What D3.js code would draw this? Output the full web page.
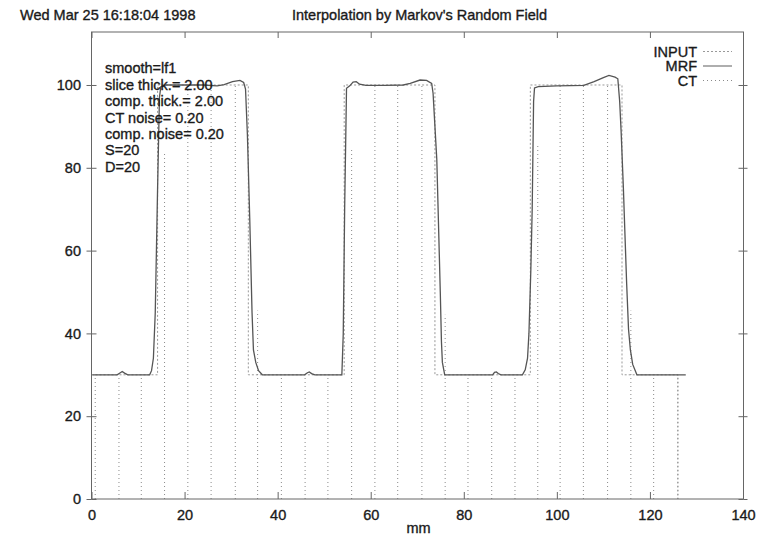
<!DOCTYPE html>
<html>
<head>
<meta charset="utf-8">
<script src="https://cdn.jsdelivr.net/npm/d3@7"></script>
<style>
  body { margin: 0; background: #fff; }
  svg text { font-family: "Liberation Sans", Arial, sans-serif; font-size: 14.5px; fill: #1a1a1a;
             stroke: #1a1a1a; stroke-width: 0.35px; }
  .axis path { display: none; }
  .axis line { stroke: #666; }
</style>
</head>
<body>
<div id="chart"></div>
<script>
// 헤더 / 범례 / 파라미터 텍스트
const headerDate = 'Wed Mar 25 16:18:04 1998';
const chartTitle = "Interpolation by Markov's Random Field";
const xLabel = 'mm';
const legendNames = ['INPUT', 'MRF', 'CT'];
const paramLines = ['smooth=lf1', 'slice thick.= 2.00', 'comp. thick.= 2.00',
    'CT noise= 0.20', 'comp. noise= 0.20', 'S=20', 'D=20'];

const xTicks = [0, 20, 40, 60, 80, 100, 120, 140];
const yTicks = [0, 20, 40, 60, 80, 100];

// INPUT: 원래 계단 함수
const inputX = [0, 14.2, 14.2, 33.7, 33.7, 54.3, 54.3, 73.8, 73.8, 94.3, 94.3, 114.0, 114.0, 126.0, 126.0];
const inputY = [30, 30, 100, 100, 30, 30, 100, 100, 30, 30, 100, 100, 30, 30, 0];

// MRF: 복원 결과 곡선
const mrfX = [0.2, 5.5, 6.2, 6.6, 7.1, 7.8, 12.5, 12.9, 13.3, 13.7, 14.2, 14.6, 14.9, 16, 20, 24, 27, 28.5,
    30.3, 31.9, 32.7, 33.1, 33.5, 34.0, 34.5, 34.8, 35.3, 35.9, 36.7, 45.8, 46.4, 46.8, 47.3, 48,
    53.8, 54.1, 54.4, 54.8, 55.5, 56.2, 56.9, 57.6, 59, 63, 67, 68.5, 70.6, 72, 73.1, 73.4, 73.7,
    74.2, 74.6, 74.95, 75.2, 75.4, 75.9, 86.2, 86.6, 87, 87.4, 88, 92.6, 93.2, 93.7, 94.0, 94.4,
    94.7, 95.0, 95.2, 96, 100, 105.8, 108, 110, 111.2, 112.5, 113.1, 113.5, 113.8, 114.3, 114.6,
    115.0, 115.4, 115.8, 116.3, 117.2, 127.7];
const mrfY = [30, 30, 30.5, 30.8, 30.4, 30, 30, 31, 34, 45, 75, 97, 99.6, 100, 100, 100, 99.8, 100.1,
    100.8, 101.1, 100.6, 99, 88, 68, 45, 36, 33, 31, 30, 30, 30.5, 30.7, 30.3, 30,
    30, 40, 70, 99.2, 99.8, 100.7, 100.8, 100.2, 99.9, 99.9, 100, 100.4, 101.2, 101.1, 100.4, 98, 92,
    82, 65, 50, 38, 33, 30, 30, 30.6, 30.7, 30.3, 30, 30, 31.2, 34, 40, 55,
    70, 96, 99.3, 99.6, 99.8, 99.9, 100.8, 101.8, 102.3, 101.9, 101.5, 96, 89, 75, 65,
    52, 41, 36, 32.5, 30, 30];

// CT: 슬라이스 측정값 (impulse)
const ctX = [0.8, 5.9, 10.7, 15.7, 20.7, 25.7, 30.9, 35.7, 40.8, 45.9, 50.8, 55.9, 60.9, 65.8, 71.0,
    76.0, 80.9, 86.0, 91.0, 95.9, 100.7, 105.7, 110.9, 115.9, 120.8, 126.0];
const ctY = [30, 30, 30, 84, 100, 100, 100, 45.5, 30, 30, 30, 84.5, 100, 100, 100,
    44.5, 30, 30, 30, 85.5, 100, 100, 100, 45.5, 30, 30];

const W = 763, H = 541;
const plot = { left: 91.5, right: 743.5, top: 32, bottom: 499 };

const svg = d3.select('#chart').append('svg')
    .attr('width', W).attr('height', H);

const x = d3.scaleLinear().domain([0, 140]).range([plot.left, plot.right - 0.5]);
const y = d3.scaleLinear().domain([0, 112.8]).range([plot.bottom, plot.top]);

// 상단 텍스트
svg.append('text').attr('x', 20).attr('y', 20).text(headerDate);
svg.append('text').attr('x', (plot.left + plot.right) / 2 + 2).attr('y', 20)
    .attr('text-anchor', 'middle').text(chartTitle);

// 축 (눈금)
svg.append('g').attr('class', 'axis')
    .attr('transform', `translate(0,${plot.bottom})`)
    .call(d3.axisBottom(x).tickValues(xTicks).tickSize(-7).tickPadding(11));
svg.append('g').attr('class', 'axis')
    .attr('transform', `translate(0,${plot.top})`)
    .call(d3.axisTop(x).tickValues(xTicks).tickSize(-6).tickFormat(''));
svg.append('g').attr('class', 'axis')
    .attr('transform', `translate(${plot.left},0)`)
    .call(d3.axisLeft(y).tickValues(yTicks).tickSize(5).tickPadding(5.5));
svg.append('g').attr('class', 'axis')
    .attr('transform', `translate(${plot.left},0)`)
    .call(d3.axisLeft(y).tickValues(yTicks).tickSize(-5).tickFormat(''));
svg.append('g').attr('class', 'axis')
    .attr('transform', `translate(${plot.right},0)`)
    .call(d3.axisRight(y).tickValues(yTicks).tickSize(4).tickFormat(''));
svg.append('g').attr('class', 'axis')
    .attr('transform', `translate(${plot.right},0)`)
    .call(d3.axisRight(y).tickValues(yTicks).tickSize(-5).tickFormat(''));

svg.append('text').attr('x', (plot.left + plot.right) / 2 + 1).attr('y', 533)
    .attr('text-anchor', 'middle').text(xLabel);

// CT impulses
svg.append('g').selectAll('line')
    .data(ctX)
    .join('line')
    .attr('x1', d => x(d)).attr('x2', d => x(d))
    .attr('y1', y(0)).attr('y2', (d, i) => y(ctY[i]))
    .attr('stroke', '#8a8a8a')
    .attr('stroke-width', 1)
    .attr('stroke-dasharray', '1,3');

// INPUT
const line = d3.line().x(d => x(d[0])).y(d => y(d[1]));
svg.append('path')
    .datum(inputX.map((v, i) => [v, inputY[i]]))
    .attr('d', line)
    .attr('fill', 'none')
    .attr('stroke', '#999')
    .attr('stroke-width', 1)
    .attr('stroke-dasharray', '2,2');

// MRF
svg.append('path')
    .datum(mrfX.map((v, i) => [v, mrfY[i]]))
    .attr('d', line)
    .attr('fill', 'none')
    .attr('stroke', '#555')
    .attr('stroke-width', 1.3);

// 테두리
svg.append('rect')
    .attr('x', plot.left).attr('y', plot.top)
    .attr('width', plot.right - plot.left).attr('height', plot.bottom - plot.top)
    .attr('fill', 'none').attr('stroke', '#666').attr('stroke-width', 1);

// 범례
const legendStyles = [
    { stroke: '#999', dash: '2,2', width: 1 },
    { stroke: '#777', dash: null, width: 1.2 },
    { stroke: '#8a8a8a', dash: '1,3', width: 1 }
];
legendNames.forEach((name, i) => {
    const cy = 51.5 + i * 14.5;
    svg.append('text').attr('x', 697).attr('y', cy + 5)
        .attr('text-anchor', 'end').text(name);
    svg.append('line')
        .attr('x1', 703).attr('x2', 732).attr('y1', cy).attr('y2', cy)
        .attr('stroke', legendStyles[i].stroke)
        .attr('stroke-width', legendStyles[i].width)
        .attr('stroke-dasharray', legendStyles[i].dash);
});

// 파라미터 텍스트 블록
paramLines.forEach((t, i) => {
    svg.append('text').attr('x', 105).attr('y', 73.3 + i * 16.4).text(t);
});
</script>
</body>
</html>
